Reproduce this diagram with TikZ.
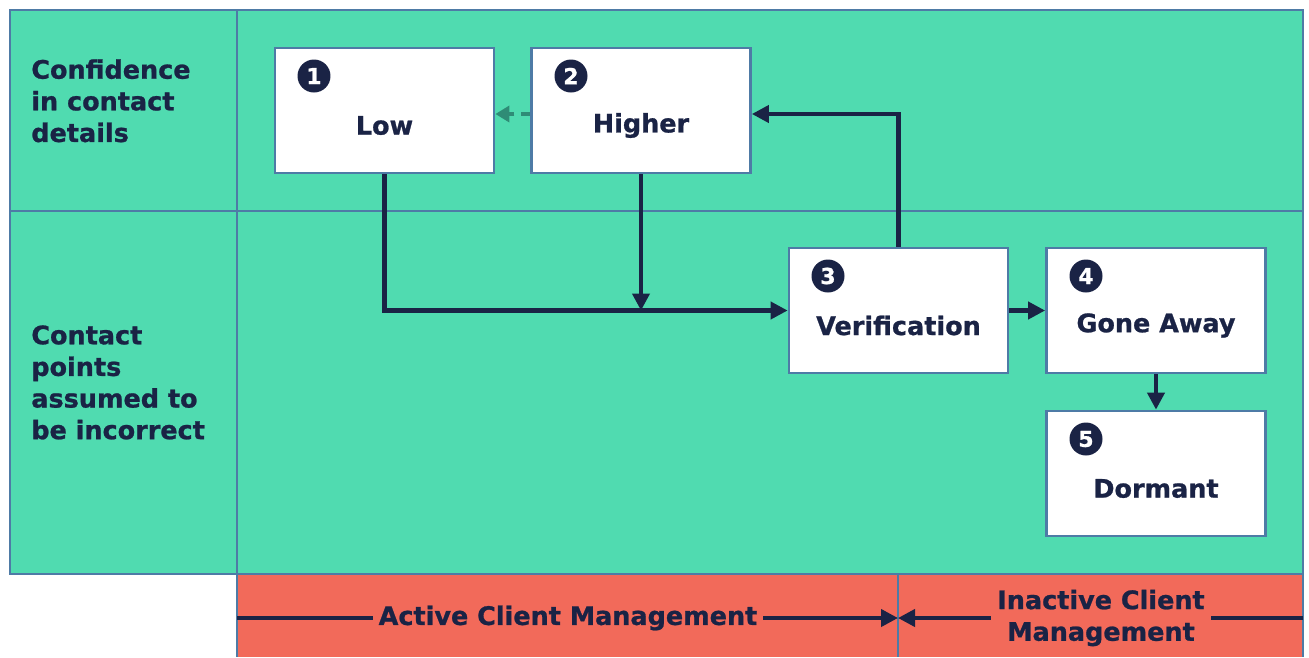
\documentclass[tikz,border=0pt]{standalone}
\usepackage{fontspec}
\setmainfont{DejaVu Sans}[BoldFeatures={FakeBold=0.9}]
\usetikzlibrary{arrows.meta}

\definecolor{lanegreen}{HTML}{50DBB0}
\definecolor{bandred}{HTML}{F26A5A}
\definecolor{gridblue}{HTML}{4E7BA6}
\definecolor{navy}{HTML}{1A2345}
\definecolor{dashteal}{HTML}{2F8C76}

\tikzset{
	stage/.style={draw=gridblue,line width=1.6pt,fill=white,minimum width=4.38cm,minimum height=2.5cm,inner sep=0pt},
	stagetext/.style={text=navy,font=\fontsize{14.5}{18}\selectfont\bfseries},
	numdot/.style={circle,fill=navy,text=white,minimum size=0.66cm,inner sep=0pt,font=\fontsize{12.5}{12}\selectfont\bfseries},
	lanetext/.style={text=navy,align=left,anchor=north west,inner sep=0pt,font=\fontsize{14.5}{18}\selectfont\bfseries},
	flow/.style={navy,line width=2.3pt,-{Triangle[length=0.34cm,width=0.34cm]}},
	dashflow/.style={dashteal,line width=2.3pt,dash pattern=on 5pt off 4pt,-{Triangle[length=0.28cm,width=0.32cm]}},
	bandtext/.style={fill=bandred,text=navy,align=center,inner xsep=0.12cm,inner ysep=1pt,font=\fontsize{14.5}{18}\selectfont\bfseries}
}

\begin{document}
\begin{tikzpicture}[x=0.02cm,y=-0.02cm]
	\useasboundingbox (0,0) rectangle (1309,657);
	% lanes and band
	\fill[lanegreen] (10,10) rectangle (1303,574);
	\fill[bandred] (237,574) rectangle (1303,657);
	\draw[gridblue,line width=1.1pt] (10,10) rectangle (1303,574);
	\draw[gridblue,line width=1.1pt] (237,10) -- (237,657);
	\draw[gridblue,line width=1.1pt] (10,211) -- (1303,211);
	\draw[gridblue,line width=1.1pt] (898,574) -- (898,657);
	\draw[gridblue,line width=1.1pt] (1303,574) -- (1303,657);

	\node[lanetext] (confidence) at (31,59) {Confidence\\in contact\\details};
	\node[lanetext] (incorrect) at (31,325) {Contact\\points\\assumed to\\be incorrect};

	% stages
	\node[stage] (low) at (384.5,110.5) {};
	\node[stage] (higher) at (641,110.5) {};
	\node[stage] (verif) at (898.5,310.5) {};
	\node[stage] (gone) at (1156,310.5) {};
	\node[stage] (dormant) at (1156,473.5) {};

	\node[stagetext] (lowtxt) at ([yshift=-0.3cm]low.center) {Low};
	\node[stagetext] (highertxt) at ([yshift=-0.3cm]higher.center) {Higher};
	\node[stagetext] (veriftxt) at ([yshift=-0.3cm]verif.center) {Verification};
	\node[stagetext] (gonetxt) at ([yshift=-0.3cm]gone.center) {Gone Away};
	\node[stagetext] (dormanttxt) at ([yshift=-0.3cm]dormant.center) {Dormant};

	\node[numdot] (n1) at (314,76) {1};
	\node[numdot] (n2) at (571,76) {2};
	\node[numdot] (n3) at (828,276) {3};
	\node[numdot] (n4) at (1086,276) {4};
	\node[numdot] (n5) at (1086,439) {5};

	% connectors
	\draw[dashflow] ([yshift=-0.07cm]higher.west) -- ([yshift=-0.07cm]low.east);
	\draw[flow] (low.south) |- (verif.west);
	\draw[flow] (higher.south) -- (higher.south |- verif.west);
	\draw[flow] (verif.north) |- ([yshift=-0.07cm]higher.east);
	\draw[flow] (verif.east) -- (gone.west);
	\draw[flow] (gone.south) -- (dormant.north);

	% management band
	\coordinate (activeL) at (237,618);
	\coordinate (split) at (898,618);
	\coordinate (inactiveR) at (1303,618);
	\draw[flow] (activeL) -- (split);
	\draw[flow] (inactiveR) -- (split);
	\node[bandtext] (active) at (568,618) {Active Client Management};
	\node[bandtext] (inactive) at (1101,618) {Inactive Client\\Management};
\end{tikzpicture}
\end{document}
